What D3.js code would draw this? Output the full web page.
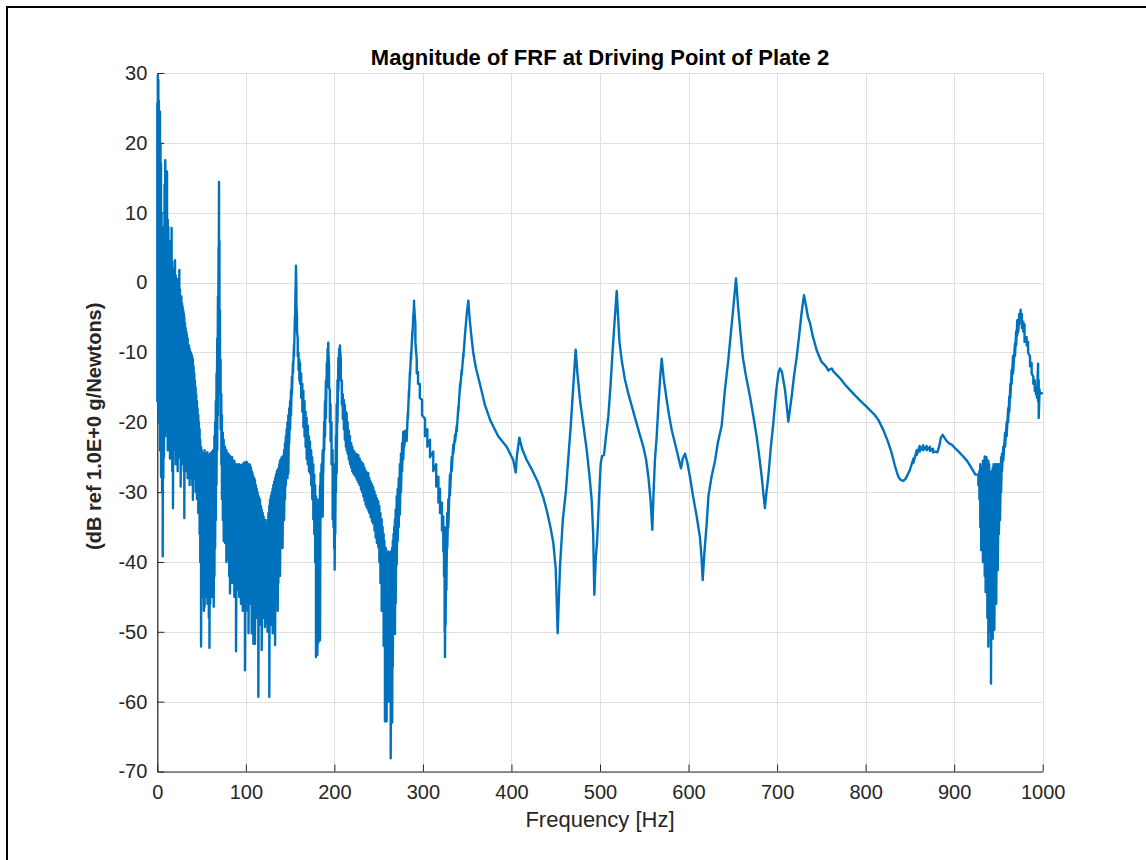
<!DOCTYPE html>
<html>
<head>
<meta charset="utf-8">
<script src="https://cdn.jsdelivr.net/npm/d3@7"></script>
<style>
  html, body { margin: 0; padding: 0; background: #fff; }
  svg { display: block; font-family: "Liberation Sans", Arial, Helvetica, sans-serif; }
</style>
</head>
<body>
<svg id="chart" width="1146" height="860"></svg>
<script>
// Driving-point FRF magnitude, plate 2.
// Each row: [frequency Hz, upper dB, lower dB]; lower omitted where the trace is a single clean line.
// Where the measurement is noisy the trace sweeps between the upper and lower value at each frequency.

// 0 – 156 Hz: heavily noisy low-frequency band with the 70 Hz spike
const lowBand = [
  [0.0, 25.7, -17], [0.6, 29.7, 10], [1.2, 29, -5], [1.8, 26, -20], [2.4, 24.5, -8],
  [3.0, 24.5, -24], [3.6, 20, -12], [4.2, 17, -27.8], [4.8, 10, -20], [5.4, 5, -30],
  [6.1, 3, -39.2], [6.8, 3, -28], [7.5, 8, -25], [8.2, 14, -18], [9.0, 17.5, -22],
  [9.6, 12, -20], [10.3, 14, -16], [11.0, 15.9, -21], [11.8, 9, -24], [12.5, 8, -19],
  [13.5, 3, -22], [14.3, 5, -25.2], [15.0, 6, -20], [15.6, 4, -24], [16.2, 7.8, -21],
  [16.9, 3, -27], [17.7, 2, -32.3], [18.4, 1, -24], [19.2, 2, -19], [20.0, 3.2, -22],
  [20.8, 1, -26], [21.5, 0, -20], [22.3, 0.5, -24], [23.0, -1, -27], [23.8, 0, -21],
  [24.9, 1.8, -25], [25.6, -1, -23], [26.4, -2, -29.2], [27.2, -2, -22], [28.0, -3, -24],
  [28.7, -3.5, -26], [29.4, -4, -22], [30.0, -4.5, -27], [30.5, -5, -33.7], [31.3, -5.8, -25],
  [32.0, -6.5, -23], [32.8, -7, -27], [33.5, -7.5, -25], [34.3, -8, -28], [35.0, -9.2, -24],
  [35.8, -9, -27], [36.5, -9.5, -29], [37.3, -10, -25], [38.0, -10, -28], [38.8, -10.3, -26],
  [39.5, -10.6, -29], [40.2, -11, -31.1], [41.0, -12, -26], [41.8, -13, -28], [42.5, -14, -27],
  [43.3, -15, -30], [44.0, -16, -28], [44.8, -17, -31], [45.5, -18, -29], [46.3, -19, -33],
  [47.0, -20, -31], [47.8, -21, -36], [48.5, -22.5, -40], [49.4, -23.5, -52.1], [50.2, -24, -44],
  [51.0, -24.5, -42], [51.8, -24.5, -45], [52.6, -25, -47], [53.4, -24, -46.4], [54.2, -25, -44],
  [55.0, -24.5, -45], [55.8, -25, -43], [56.6, -24.3, -46], [57.4, -25, -44], [58.2, -24.7, -48],
  [58.9, -25, -52.3], [59.7, -24.5, -46], [60.5, -25, -44], [61.3, -24.3, -45], [62.1, -25, -43],
  [62.9, -24, -45], [63.7, -24.5, -46.4], [64.5, -22, -42], [65.3, -20, -38], [66.1, -17, -34],
  [66.9, -13, -29], [67.7, -8, -24], [68.5, -2, -19], [69.2, 5, -12], [69.7, 14.4, -6],
  [70.2, 6, -10], [70.8, -4, -16], [71.5, -11, -21], [72.3, -16, -26], [73.0, -19, -31],
  [74.0, -21.5, -34], [75.0, -22.5, -37], [76.5, -23.5, -37.3], [78.0, -24, -40], [79.1, -24.4, -38],
  [80.2, -24.5, -39.7], [81.2, -25, -42], [82.1, -24.8, -44.5], [83.2, -25.5, -41], [84.5, -25, -43],
  [85.8, -25.9, -40], [87.0, -25.5, -45], [88.0, -26, -42], [88.9, -26.2, -52.8], [90.0, -26, -44],
  [91.5, -26.6, -41], [92.5, -26, -45], [93.4, -26.1, -42], [94.5, -26.5, -46], [95.3, -26.1, -43],
  [96.5, -26, -47], [97.8, -25.8, -44], [99.0, -26, -55.5], [100.0, -25.7, -45], [101.0, -25.7, -43],
  [102.0, -26, -47], [103.0, -26.2, -50.2], [104.0, -26, -44], [104.7, -26.1, -46], [105.8, -26.5, -43],
  [106.6, -27, -50.2], [107.6, -27.3, -45], [108.5, -27.8, -51.7], [109.5, -28, -46], [110.3, -28.3, -51.7],
  [111.3, -29, -44], [112.3, -29.5, -48], [113.2, -30, -46], [114.1, -30.5, -59.3], [115.0, -30.8, -47],
  [116.0, -31.1, -45], [117.0, -32, -49], [117.9, -32.5, -52.6], [119.0, -33, -46], [120.0, -33.5, -48],
  [121.0, -34, -44], [121.6, -34, -49.3], [122.8, -34.5, -48.8], [123.6, -35, -46], [124.5, -34, -50],
  [125.5, -33, -47], [126.5, -32, -59.3], [127.3, -31.1, -48], [128.3, -30.5, -45], [129.3, -30, -49],
  [130.3, -29.5, -50.2], [131.0, -29, -46], [132.0, -28.5, -48], [133.0, -28, -51.9], [134.0, -27.5, -46],
  [135.0, -27, -44], [136.0, -26.8, -47], [136.7, -26.6, -43], [137.8, -26, -40], [138.6, -25.5, -42],
  [139.5, -25.3, -37], [140.5, -25, -35.9], [141.5, -24.9, -38], [142.3, -24.9, -33], [143.2, -24, -34],
  [144.2, -23, -31.1], [145.2, -22, -29], [146.1, -21, -27], [147.0, -20, -28], [148.0, -19, -27.3],
  [149.0, -18, -23], [150.0, -17, -21], [151.0, -15.5, -19], [152.0, -13.5, -16], [153.2, -11.5, -13],
  [154.4, -9, -10.5], [155.4, -5, -6.5], [156.1, -1, -2], [156.6, 2.4]
];

// 157 – 290 Hz: modes near 157, 193, 206 Hz and the deep notch near 264 Hz
const midBand = [
  [157.1, -1, -3], [157.8, -5, -7], [158.6, -8, -10.5], [159.5, -10, -12.5], [160.4, -11, -14],
  [161.2, -11.5, -14.5], [162.5, -13, -16.5], [163.8, -14.5, -18.5], [165.0, -15.5, -20.7], [166.3, -17, -22],
  [167.5, -18.5, -23.5], [168.7, -19.4, -25.3], [170.0, -20.5, -26], [171.3, -22, -27], [172.5, -22.8, -27.3],
  [173.8, -24, -29], [175.0, -25, -31], [176.2, -26, -33.9], [177.3, -27.5, -36], [178.3, -29, -40],
  [179.2, -30.6, -53.6], [180.0, -31, -44], [180.8, -32, -53.3], [181.8, -33.9, -51.6], [182.8, -31, -45],
  [183.8, -29, -51.2], [184.4, -27.3, -33.9], [185.5, -26, -31], [186.8, -24, -33.5], [187.4, -24, -27.3],
  [188.5, -20, -24], [189.4, -17, -22], [190.4, -14.1, -19.4], [191.5, -11.5, -15], [192.4, -9.5, -12],
  [193.1, -8.6, -9.5], [194.0, -12, -15], [194.9, -15.5, -20], [195.7, -17.4, -22.7], [196.8, -20, -26],
  [198.0, -24, -33.9], [199.0, -26, -35], [199.7, -28, -38], [200.3, -30.6, -41.1], [201.0, -27, -36],
  [201.8, -22, -30], [202.6, -17.4, -27.3], [203.5, -14, -20], [204.5, -10.8, -15.5], [205.4, -9.5, -12],
  [206.3, -9.0, -9.5], [207.3, -11, -14], [208.4, -14, -17.5], [209.5, -16, -19.5], [210.7, -16.8, -21],
  [211.8, -17.5, -22.5], [213.0, -18.5, -23.5], [213.9, -18.7, -24], [215.0, -20, -24.5], [216.3, -21.2, -25.3],
  [217.6, -22, -26], [219.0, -23, -26.5], [220.2, -23.5, -27], [221.4, -24, -27.3], [222.6, -24.2, -27.5],
  [224.0, -24.5, -27.8], [225.4, -24.6, -28.2], [227.0, -24.7, -28.6], [228.5, -25.2, -29], [230.0, -25.6, -29.6],
  [231.3, -25.8, -30], [232.7, -26, -30.6], [234.0, -26.5, -31.2], [235.3, -26.9, -31.8], [236.6, -27.2, -32.2],
  [238.3, -27.3, -32.6], [239.5, -28, -33], [241.0, -28.5, -33.6], [242.5, -28.9, -34.2], [243.9, -29.3, -34.5],
  [245.3, -29.9, -35.5], [246.6, -30.4, -36.5], [248.0, -30.9, -37.3], [249.6, -31.3, -37.9], [250.8, -32, -40],
  [252.0, -33, -43], [253.4, -33.9, -47], [254.5, -35, -44], [255.6, -36, -52], [256.5, -37, -48],
  [257.1, -38.4, -62.8], [258.0, -38, -55], [259.0, -38.5, -62.8], [259.7, -39, -56], [260.5, -38.5, -60],
  [261.3, -39, -54], [262.0, -38.7, -60], [262.8, -39, -57], [263.6, -38.5, -68.1], [264.5, -39, -58],
  [265.3, -38, -63], [266.0, -37, -55], [266.8, -36, -50], [267.6, -35, -48], [268.4, -33.9, -50.3],
  [269.2, -32.5, -46], [270.4, -30.6, -40.4], [271.5, -29.5, -37], [272.7, -28, -35], [274.0, -26, -33.2],
  [275.2, -24.5, -30], [276.5, -23, -27], [277.8, -21.4, -25.3], [279.0, -21.3, -23.5], [280.3, -21.2, -22.5],
  [281.6, -21.4, -22.7], [283.0, -18.5, -19.5], [284.2, -15.5, -16.5], [285.3, -12.8, -13.6], [286.6, -10, -11],
  [288.0, -7, -8], [289.2, -4.5, -5.5]
];

// 290 – 927 Hz: well-resolved resonances
const cleanTrace = [
  [290.0, -2.6, -3.2], [291.5, -6, -8.5], [293.0, -11, -13], [294.5, -12.8, -14.5], [296.5, -14.5, -16.5],
  [299.0, -16.8, -19], [302.4, -19.5, -22], [305.0, -21, -23.5], [308.0, -22.5, -25], [311.7, -24.2, -27],
  [315.0, -26, -29.2], [317.5, -27.8, -31.5], [319.3, -29.5, -33], [321.5, -31.5, -35.5], [323.0, -33.5, -38.5],
  [323.8, -35, -42], [324.5, -37, -50], [324.9, -40, -53.6], [325.6, -38, -49], [326.5, -35, -44],
  [327.5, -33, -38], [328.7, -31, -35], [330.5, -27.5, -30.5], [332.5, -25, -27], [334.3, -23.2, -24.5],
  [336.3, -21.8, -22.8], [338.2, -20.5, -21.3], [340.0, -17.8, -18.5], [342.0, -14.5, -15.2], [343.8, -12.5, -13.2],
  [345.6, -10.2, -10.8], [347.5, -7.5], [349.5, -4.5], [351.3, -2.6], [353.0, -5.5],
  [355.0, -8], [357.0, -10.2], [360.0, -12.3], [364.5, -14.6], [370.0, -17.5],
  [376.0, -19.7], [385.0, -22], [394.6, -23.5], [402.0, -25.4], [404.8, -27.2],
  [406.0, -25], [408.9, -22.2], [412.0, -23.8], [417.2, -25.4], [424.0, -27],
  [430.3, -28.7], [436.0, -30.8], [439.8, -32.6], [444.0, -35], [447.3, -37.3],
  [450.0, -41], [452.2, -50.2], [454.8, -40.7], [458.0, -34], [461.6, -29.7],
  [464.0, -25.5], [466.9, -20.6], [470.0, -14.5], [472.5, -9.6], [474.5, -13],
  [477.4, -16.8], [481.0, -20.2], [485.0, -24], [488.0, -27.5], [490.6, -31.1],
  [492.3, -36], [493.6, -44.7], [495.0, -40], [497.0, -36.4], [499.0, -30.5],
  [500.8, -25.9], [502.5, -24.8], [504.5, -24.7], [506.5, -22.3], [509.4, -19.2],
  [512.0, -14.5], [514.3, -9.7], [516.5, -5.5], [518.9, -1.2], [520.5, -5],
  [522.0, -8.5], [524.5, -11.1], [528.0, -13.8], [532.0, -15.9], [537.0, -18.2],
  [541.4, -20.2], [545.0, -21.8], [548.9, -23.5], [552.0, -25.3], [554.6, -27.8],
  [557.0, -31], [559.1, -35.4], [560.5, -30], [562.0, -25.5], [564.0, -22.1],
  [566.0, -17.5], [568.0, -13.5], [569.7, -10.9], [572.0, -13.8], [575.3, -16.8],
  [578.0, -19], [581.0, -21.1], [586.6, -24], [589.0, -25.3], [591.5, -26.6],
  [593.5, -25.2], [596.0, -24.5], [598.5, -25.7], [601.6, -27.8], [605.0, -30.5],
  [609.2, -33.5], [612.9, -36.5], [614.5, -39], [616.0, -42.6], [618.0, -38.5],
  [620.5, -34.5], [622.5, -30.5], [626.0, -27.8], [629.9, -25.5], [633.0, -23],
  [637.4, -20.5], [641.0, -15.5], [644.9, -11.1], [648.0, -7], [651.0, -3],
  [653.6, 0.6], [656.0, -3.5], [658.5, -7], [661.2, -10.6], [665.0, -13.5],
  [669.4, -16.3], [673.0, -19], [677.0, -22.1], [680.0, -25], [682.6, -27.8],
  [684.8, -30.5], [686.3, -32.3], [688.0, -30], [690.1, -27.8], [693.0, -23.5],
  [695.7, -20.2], [699.0, -15.5], [701.5, -13], [703.3, -12.3], [705.5, -12.8],
  [709.0, -15.4], [711.0, -17.8], [712.7, -19.9], [714.5, -18.2], [716.5, -16.3],
  [719.0, -13.5], [722.2, -10.6], [725.0, -7.5], [728.0, -4], [730.4, -1.8],
  [732.5, -3.2], [735.0, -5], [737.2, -5.8], [740.0, -7.5], [744.7, -9.7],
  [750.0, -11.3], [755.2, -12], [758.0, -12.6], [760.0, -12.4], [761.7, -12.3],
  [764.0, -12.8], [771.1, -13.7], [778.0, -14.8], [786.1, -15.9], [793.0, -16.8],
  [801.2, -17.8], [806.0, -18.4], [810.6, -19], [815.0, -19.8], [820.0, -21.1],
  [825.0, -22.7], [829.4, -24.4], [833.0, -26.2], [836.9, -27.8], [840.0, -28.3],
  [842.6, -28.4], [845.0, -28.1], [847.5, -27.5], [850.1, -26.8], [854.0, -25.2, -25.8],
  [857.7, -24, -24.7], [861.0, -23.4, -24.2], [865.1, -23.3, -24], [869.0, -23.4, -24], [872.7, -23.5, -24.1],
  [876.0, -23.8, -24.3], [878.5, -24.2], [881.0, -24.3], [883.0, -23.5], [885.0, -22.2],
  [887.0, -21.8], [889.0, -22.2], [891.0, -22.6], [894.0, -23], [897.2, -23.2],
  [901.0, -23.7], [905.0, -24.2], [910.3, -24.9], [915.0, -25.6], [919.8, -26.6],
  [924.0, -27.5]
];

// 927 – 1000 Hz: noisy anti-resonance near 940 Hz and the last mode near 975 Hz
const highBand = [
  [927.3, -27.5, -29], [928.5, -27, -31], [929.5, -26, -35], [930.5, -27, -38.3], [931.5, -26.5, -33],
  [932.5, -25.5, -40], [933.5, -26, -36], [934.5, -24.9, -42], [935.5, -25.5, -44.3], [936.5, -25, -40],
  [937.5, -26, -48], [938.6, -25.5, -52.1], [939.5, -26, -46], [940.5, -27, -50], [941.6, -27.5, -57.4],
  [942.5, -27, -48], [943.5, -26.5, -51], [944.5, -26, -45], [945.4, -27, -49.7], [946.5, -26, -42],
  [947.5, -26.5, -46], [948.5, -26, -40], [949.2, -27, -41.2], [950.5, -26, -36], [951.8, -26.4, -34],
  [953.0, -25, -30], [954.0, -24.5, -27], [955.5, -23.5, -25.5], [957.5, -21.5, -23.5], [959.3, -20, -22],
  [961.0, -18, -20], [962.3, -16.3, -18.5], [963.5, -14.5, -16.5], [964.9, -12.5, -14.5], [966.5, -10.5, -13],
  [968.7, -8.7, -10.5], [970.0, -7, -9], [971.3, -5.4, -7.5], [972.5, -5.5, -7], [973.5, -4.5, -6],
  [975.1, -3.9, -5.5], [976.5, -4.5, -6.5], [978.1, -5.6, -7], [979.5, -6, -8.5], [981.9, -7.8, -9],
  [983.5, -8.5, -10], [985.7, -10.6, -12], [987.5, -11.5, -13], [989.4, -13.5, -14.5], [991.0, -14, -15.5],
  [992.4, -15.4, -16], [993.5, -15, -16.5], [994.8, -11.6, -17], [995.5, -14, -19.4], [996.5, -15.3, -16],
  [998.9, -15.8, -16]
];

const xTicks = [0, 100, 200, 300, 400, 500, 600, 700, 800, 900, 1000];
const yTicks = [-70, -60, -50, -40, -30, -20, -10, 0, 10, 20, 30];

const titleText = "Magnitude of FRF at Driving Point of Plate 2";
const xLabelText = "Frequency [Hz]";
const yLabelText = "(dB ref 1.0E+0 g/Newtons)";

// ---- layout ----
const svg = d3.select("#chart");
const plot = { left: 157.3, right: 1042.7, top: 73, bottom: 771.5 };
const ink = "#262626";

const x = d3.scaleLinear().domain([0, 1000]).range([plot.left, plot.right]);
const y = d3.scaleLinear().domain([-70, 30]).range([plot.bottom, plot.top]);

// outer frame
svg.append("path")
  .attr("d", "M7,862 V7 H1148")
  .attr("fill", "none")
  .attr("stroke", "#000")
  .attr("stroke-width", 2);

// grid
const grid = svg.append("g").attr("stroke", "#dfdfdf").attr("stroke-width", 1);
grid.selectAll("line.gx").data(xTicks).join("line")
  .attr("x1", d => Math.round(x(d)) + 0.5).attr("x2", d => Math.round(x(d)) + 0.5)
  .attr("y1", plot.top).attr("y2", plot.bottom);
grid.selectAll("line.gy").data(yTicks).join("line")
  .attr("x1", plot.left).attr("x2", plot.right)
  .attr("y1", d => Math.round(y(d)) + 0.5).attr("y2", d => Math.round(y(d)) + 0.5);

// axes with inward ticks; plain integer labels with ASCII hyphen minus
const fontStack = '"Liberation Sans", Arial, Helvetica, sans-serif';
const plainLabel = d => String(d);
const xAxis = svg.append("g")
  .attr("transform", `translate(0,${plot.bottom})`)
  .call(d3.axisBottom(x).tickValues(xTicks).tickFormat(plainLabel)
    .tickSizeInner(-7).tickSizeOuter(0).tickPadding(13));
const yAxis = svg.append("g")
  .attr("transform", `translate(${plot.left},0)`)
  .call(d3.axisLeft(y).tickValues(yTicks).tickFormat(plainLabel)
    .tickSizeInner(-7).tickSizeOuter(0).tickPadding(10));

[xAxis, yAxis].forEach(g => {
  g.select(".domain").attr("stroke", ink).attr("stroke-width", 1.2);
  g.selectAll(".tick line").attr("stroke", ink).attr("stroke-width", 1);
  g.selectAll(".tick text")
    .attr("fill", ink)
    .style("font-family", fontStack)
    .style("font-size", "20px");
});

// FRF trace: at each frequency the path visits the upper value then the lower value
const rows = [...lowBand, ...midBand, ...cleanTrace, ...highBand];
const points = rows.flatMap(([f, hi, lo]) =>
  (lo === undefined || lo === hi) ? [[f, hi]] : [[f, hi], [f, lo]]);

const line = d3.line().x(d => x(d[0])).y(d => y(d[1]));
svg.append("path")
  .datum(points)
  .attr("d", line)
  .attr("fill", "none")
  .attr("stroke", "#0072BD")
  .attr("stroke-width", 2.4)
  .attr("stroke-linejoin", "round");

// labels
const midX = (plot.left + plot.right) / 2;
svg.append("text")
  .attr("x", midX).attr("y", 65)
  .attr("text-anchor", "middle")
  .attr("fill", "#000")
  .style("font-family", fontStack)
  .style("font-size", "22px")
  .style("font-weight", "bold")
  .text(titleText);

svg.append("text")
  .attr("x", midX).attr("y", 827)
  .attr("text-anchor", "middle")
  .attr("fill", ink)
  .style("font-family", fontStack)
  .style("font-size", "22px")
  .text(xLabelText);

svg.append("text")
  .attr("transform", `translate(101,${(plot.top + plot.bottom) / 2 + 4}) rotate(-90)`)
  .attr("text-anchor", "middle")
  .attr("fill", ink)
  .style("font-family", fontStack)
  .style("font-size", "20px")
  .style("font-weight", "bold")
  .text(yLabelText);
</script>
</body>
</html>
